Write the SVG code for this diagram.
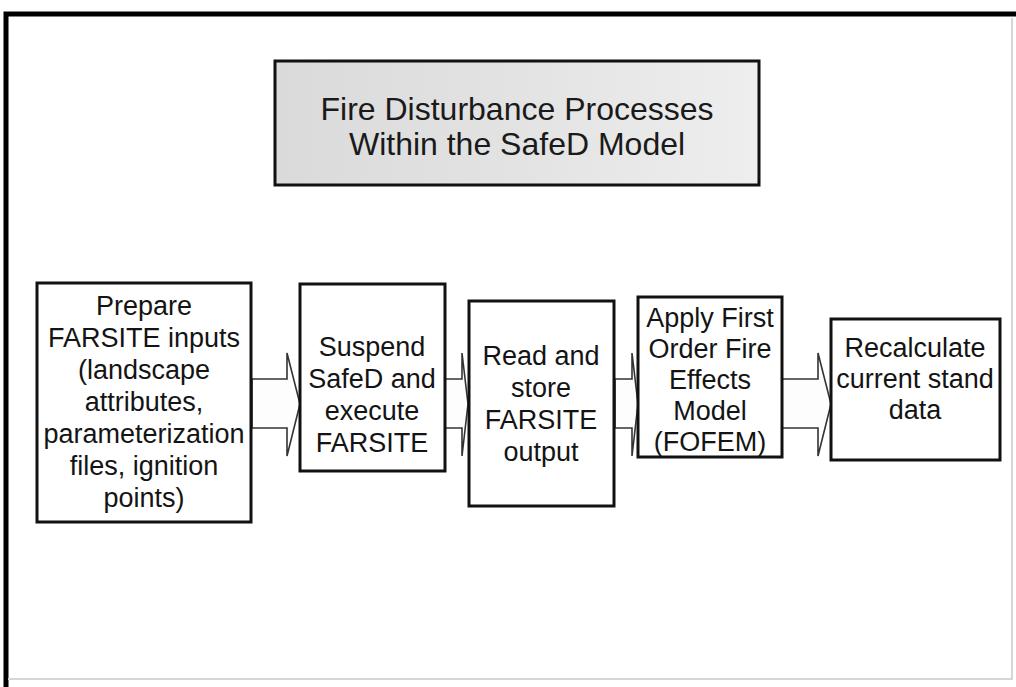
<svg xmlns="http://www.w3.org/2000/svg" width="1016" height="687" viewBox="0 0 1016 687">
  <defs>
    <linearGradient id="titleFill" x1="0" y1="0" x2="1" y2="0">
      <stop offset="0" stop-color="#dadada"/>
      <stop offset="0.5" stop-color="#e3e3e3"/>
      <stop offset="1" stop-color="#eeeeee"/>
    </linearGradient>
    <style>
      .frame { fill: none; stroke: #000; stroke-width: 5; }
      .faint { fill: none; stroke: #d6d6d6; stroke-width: 2; }
      .box { fill: #fff; stroke: #111; stroke-width: 3; }
      .title-box { fill: url(#titleFill); stroke: #111; stroke-width: 3; }
      .label { font-family: "Liberation Sans", Arial, sans-serif; font-size: 27px; fill: #141414; text-anchor: middle; }
      .title { font-family: "Liberation Sans", Arial, sans-serif; font-size: 32px; fill: #1a1a1a; text-anchor: middle; }
      .arrow { fill: #fdfdfd; stroke: #333; stroke-width: 1.6; stroke-linejoin: miter; }
    </style>
  </defs>

  <rect width="1016" height="687" fill="#fff"/>

  <!-- page frame -->
  <path class="frame" d="M6,687 V14 H1016"/>
  <path class="faint" d="M8,679 H1012 V18"/>

  <!-- heading -->
  <g id="title">
    <rect class="title-box" x="275" y="61" width="484" height="124"/>
    <text class="title" x="517" y="120">Fire Disturbance Processes</text>
    <text class="title" x="517" y="155">Within the SafeD Model</text>
  </g>

  <!-- block arrows between the process steps -->
  <g id="connectors">
    <polygon class="arrow" points="252,379 287,379 287,353 300,404 287,456 287,428 252,428"/>
    <polygon class="arrow" points="445,379 462,379 462,353 468,404 462,456 462,428 445,428"/>
    <polygon class="arrow" points="615,379 632,379 632,353 638,404 632,456 632,428 615,428"/>
    <polygon class="arrow" points="782,379 818,379 818,353 831,404 818,456 818,428 782,428"/>
  </g>

  <g id="prepare">
    <rect class="box" x="37" y="283" width="214" height="239"/>
    <text class="label" x="144" y="315">Prepare</text>
    <text class="label" x="144" y="347">FARSITE inputs</text>
    <text class="label" x="144" y="379">(landscape</text>
    <text class="label" x="144" y="411">attributes,</text>
    <text class="label" x="144" y="443">parameterization</text>
    <text class="label" x="144" y="475">files, ignition</text>
    <text class="label" x="144" y="507">points)</text>
  </g>

  <g id="suspend">
    <rect class="box" x="300" y="284" width="145" height="187"/>
    <text class="label" x="372" y="356">Suspend</text>
    <text class="label" x="372" y="388">SafeD and</text>
    <text class="label" x="372" y="420">execute</text>
    <text class="label" x="372" y="452">FARSITE</text>
  </g>

  <g id="read">
    <rect class="box" x="469" y="301" width="145" height="205"/>
    <text class="label" x="541" y="365">Read and</text>
    <text class="label" x="541" y="397">store</text>
    <text class="label" x="541" y="429">FARSITE</text>
    <text class="label" x="541" y="461">output</text>
  </g>

  <g id="fofem">
    <rect class="box" x="638" y="297" width="144" height="160"/>
    <text class="label" x="710" y="327">Apply First</text>
    <text class="label" x="710" y="358">Order Fire</text>
    <text class="label" x="710" y="389">Effects</text>
    <text class="label" x="710" y="420">Model</text>
    <text class="label" x="710" y="451">(FOFEM)</text>
  </g>

  <g id="recalculate">
    <rect class="box" x="831" y="319" width="169" height="141"/>
    <text class="label" x="915" y="357">Recalculate</text>
    <text class="label" x="915" y="388">current stand</text>
    <text class="label" x="915" y="419">data</text>
  </g>
</svg>
